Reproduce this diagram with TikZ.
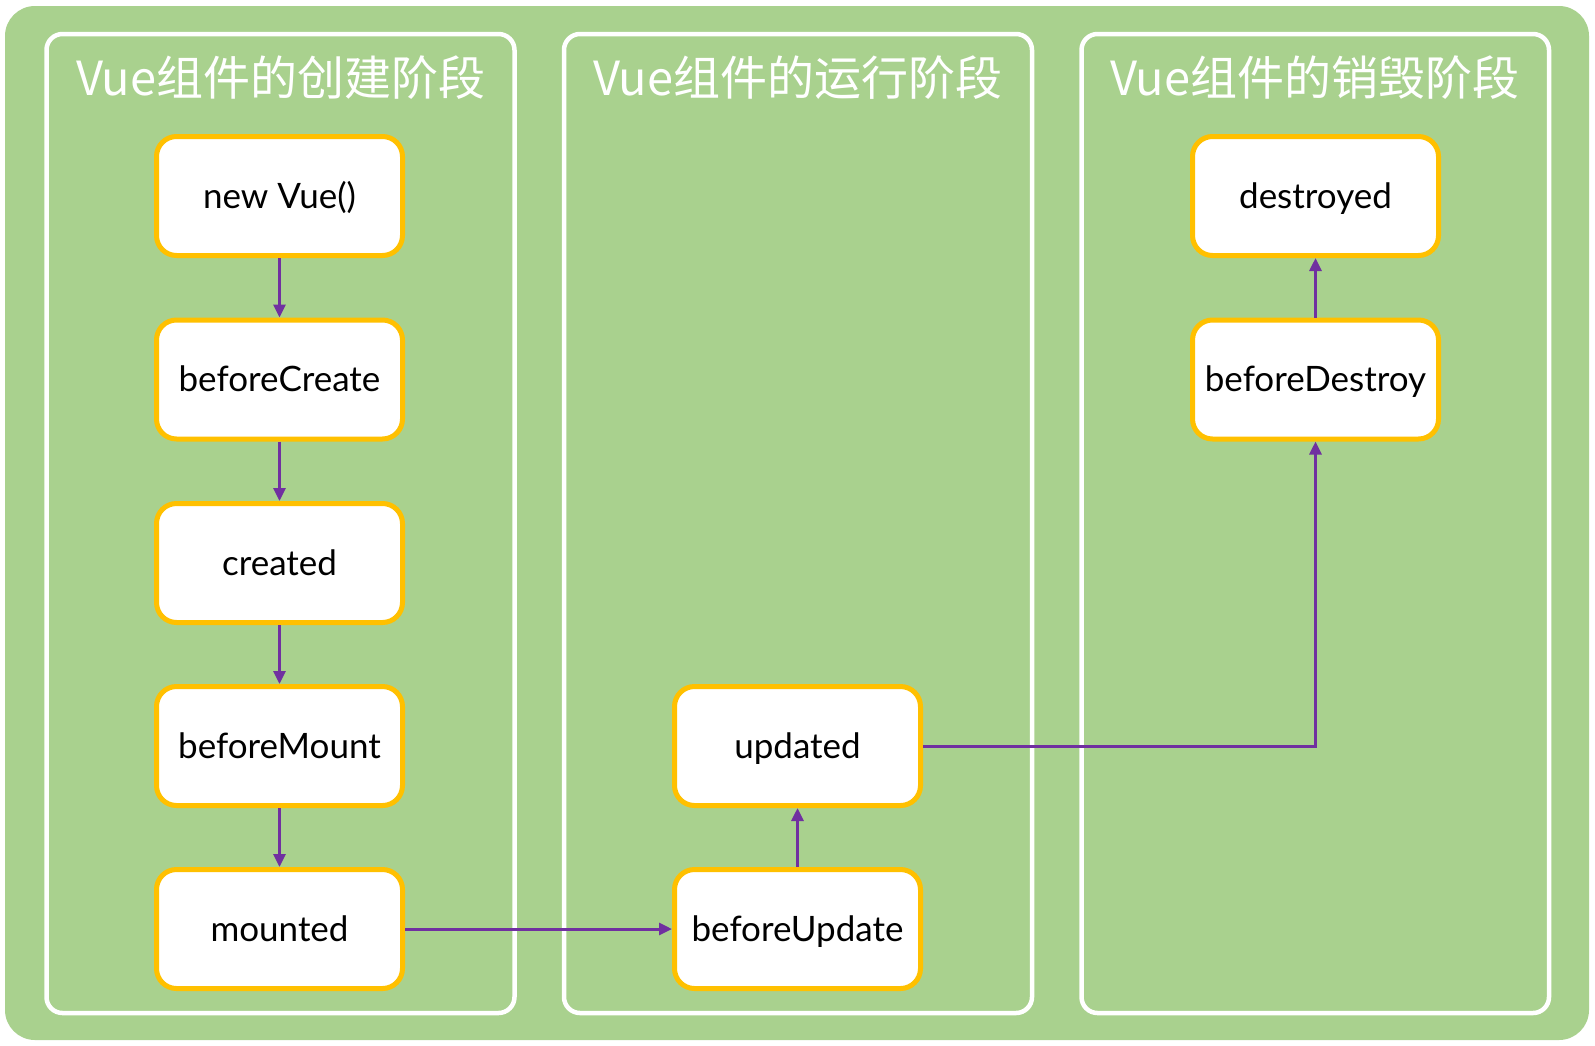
\documentclass[tikz,border=0pt]{standalone}
\usepackage{fontspec}
\setmainfont{Lato}
\newfontfamily\cjk{Noto Sans CJK SC}
\usetikzlibrary{arrows.meta}
\definecolor{bggreen}{HTML}{A9D18E}
\definecolor{boxyellow}{HTML}{FFC000}
\definecolor{arrowpurple}{HTML}{7030A0}
\begin{document}
\begin{tikzpicture}[x=1pt,y=-1pt,
  stagebox/.style={draw=boxyellow, line width=5pt, fill=white, rounded corners=20pt,
    minimum width=246pt, minimum height=119pt, inner sep=0pt,
    text height=24pt, text depth=0pt,
    font=\fontsize{35}{40}\selectfont, text=black},
  panel/.style={draw=white, line width=4.5pt, rounded corners=16pt},
  paneltitle/.style={text=white, font=\cjk\fontsize{47}{52}\selectfont, inner sep=0pt},
  flow/.style={draw=arrowpurple, line width=3pt, -{Triangle[length=13pt,width=12pt]}}]
\useasboundingbox (0,0) rectangle (1595,1045);
\fill[bggreen, rounded corners=30pt] (5,6) rectangle (1589,1040);
% panels
\draw[panel] (46.5,34) rectangle (514.5,1013);
\draw[panel] (564,34) rectangle (1032,1013);
\draw[panel] (1081.5,34) rectangle (1549,1013);
% titles
\node[paneltitle] (t1) at (280.5,78) {Vue组件的创建阶段};
\node[paneltitle] (t2) at (798,78) {Vue组件的运行阶段};
\node[paneltitle] (t3) at (1315,78) {Vue组件的销毁阶段};
% column 1
\node[stagebox] (nv) at (279.5,196) {new Vue()};
\node[stagebox] (bc) at (279.5,379.5) {beforeCreate};
\node[stagebox] (cr) at (279.5,563) {created};
\node[stagebox] (bm) at (279.5,746) {beforeMount};
\node[stagebox] (mo) at (279.5,929) {mounted};
% column 2
\node[stagebox] (up) at (797.5,746) {updated};
\node[stagebox] (bu) at (797.5,929) {beforeUpdate};
% column 3
\node[stagebox] (de) at (1315.5,196) {destroyed};
\node[stagebox] (bd) at (1315.5,379.5) {beforeDestroy};
% connectors
\draw[flow] (nv) -- (bc);
\draw[flow] (bc) -- (cr);
\draw[flow] (cr) -- (bm);
\draw[flow] (bm) -- (mo);
\draw[flow] (mo.east) -- (bu.west);
\draw[flow] (bu) -- (up);
\draw[flow] (up.east) -| (bd.south);
\draw[flow] (bd) -- (de);
\end{tikzpicture}
\end{document}
